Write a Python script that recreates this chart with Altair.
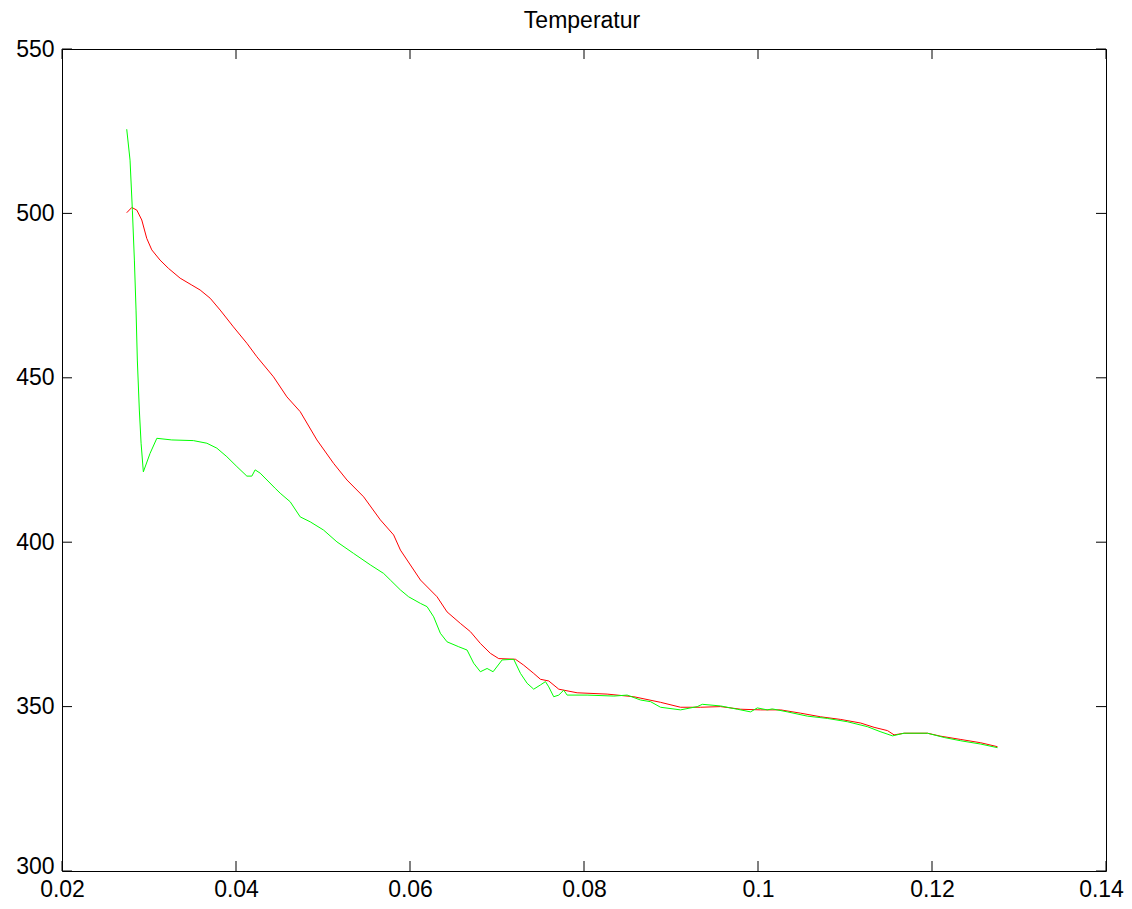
import altair as alt
import pandas as pd

# Green curve
green_x = [0.02744, 0.02782, 0.02809, 0.02832, 0.02851, 0.02866, 0.02889, 0.02909, 0.02935,
           0.03012, 0.03090, 0.03262, 0.0351, 0.03665, 0.0378, 0.03895, 0.0401, 0.04125,
           0.04182, 0.0422, 0.04278, 0.0445, 0.04508, 0.04623, 0.04738, 0.04853, 0.05006,
           0.0516, 0.05351, 0.05544, 0.05697, 0.05774, 0.05889, 0.05984, 0.06119, 0.06196,
           0.06272, 0.06349, 0.06426, 0.0656, 0.06656, 0.06732, 0.06809, 0.06886, 0.06955,
           0.07059, 0.07192, 0.0727, 0.07346, 0.07422, 0.075, 0.07557, 0.07595, 0.07652,
           0.0771, 0.07767, 0.07806, 0.08036, 0.08343, 0.08496, 0.0865, 0.08765, 0.0888,
           0.0911, 0.09302, 0.0936, 0.0957, 0.09762, 0.09915, 0.09992, 0.10107, 0.10164,
           0.10337, 0.10567, 0.10797, 0.11027, 0.11257, 0.11403, 0.11546, 0.11679, 0.11948,
           0.1214, 0.12331, 0.12561, 0.12753]
green_y = [525.6, 516.2, 501.0, 485.8, 470.6, 455.4, 440.2, 430.1, 421.4,
           427.0, 431.6, 431.1, 430.9, 430.1, 428.6, 426.0, 423.0, 420.1,
           420.1, 422.0, 421.0, 416.4, 414.9, 412.3, 407.7, 406.2, 403.7,
           400.1, 396.6, 393.1, 390.5, 388.5, 385.5, 383.4, 381.4, 380.4,
           377.3, 372.3, 369.7, 368.2, 367.2, 363.2, 360.6, 361.6, 360.6,
           364.2, 364.4, 360.1, 357.1, 355.3, 356.6, 357.6, 356.0, 353.0,
           353.5, 355.0, 353.5, 353.5, 353.2, 353.5, 352.0, 351.5, 349.8,
           349.0, 350.0, 350.7, 350.2, 349.2, 348.4, 349.6, 349.0, 349.3,
           348.4, 347.1, 346.4, 345.4, 343.9, 342.4, 341.1, 341.9, 341.9,
           340.6, 339.6, 338.6, 337.5]

# Red curve
red_x = [0.02744, 0.02802, 0.0286, 0.02917, 0.02974, 0.03032, 0.03127, 0.03223, 0.03358,
         0.03492, 0.03588, 0.03703, 0.03818, 0.0397, 0.04125, 0.0424, 0.04431, 0.04585,
         0.04738, 0.0493, 0.05121, 0.05276, 0.05467, 0.05659, 0.05812, 0.0589, 0.05966,
         0.0612, 0.06311, 0.06426, 0.06579, 0.06694, 0.06809, 0.06924, 0.0702, 0.07212,
         0.07307, 0.07422, 0.075, 0.07595, 0.0771, 0.07921, 0.08266, 0.08573, 0.0888,
         0.0911, 0.0934, 0.0957, 0.098, 0.1003, 0.1026, 0.1049, 0.1072, 0.1095, 0.1118,
         0.11334, 0.11488, 0.11564, 0.11679, 0.11948, 0.12101, 0.12331, 0.12561, 0.12753]
red_y = [500.2, 501.8, 501.0, 498.0, 492.4, 488.9, 485.8, 483.3, 480.3,
         478.2, 476.7, 474.2, 470.6, 465.5, 460.5, 456.4, 450.3, 444.2,
         439.7, 431.1, 424.0, 418.9, 413.8, 406.8, 402.2, 397.6, 394.6,
         388.5, 383.4, 378.8, 375.3, 372.8, 369.2, 366.2, 364.6, 364.4,
         362.6, 360.1, 358.3, 357.8, 355.3, 354.2, 353.8, 353.0, 351.3,
         349.8, 349.8, 350.0, 349.2, 349.0, 349.0, 348.0, 346.9, 346.1, 345.0,
         343.7, 342.7, 341.4, 341.9, 341.9, 341.0, 340.0, 339.0, 337.8]

x_ticks = [0.02, 0.04, 0.06, 0.08, 0.10, 0.12, 0.14]
y_ticks = [300, 350, 400, 450, 500, 550]
title_text = "Temperatur"

W, H = 1044, 822
FONT = "Liberation Sans"
FS = 23
TICK = 10

df = pd.concat([
    pd.DataFrame({"x": red_x, "y": red_y, "s": "red", "o": range(len(red_x))}),
    pd.DataFrame({"x": green_x, "y": green_y, "s": "green", "o": range(len(green_x))}),
])

xs = alt.Scale(domain=[0.02, 0.14], nice=False, zero=False)
ys = alt.Scale(domain=[300, 550], nice=False, zero=False)

lines = alt.Chart(df).mark_line(strokeWidth=1, interpolate="linear").encode(
    x=alt.X("x:Q", scale=xs, axis=alt.Axis(values=x_ticks, format="~g", ticks=False,
                                            domain=False, grid=False, labelFontSize=FS,
                                            labelFont=FONT, labelColor="#000",
                                            labelPadding=7, title=None,
                                            labelOffset={"condition": {"test": "datum.value >= 0.139", "value": -5}, "value": 0},
                                            labelFlush=False, labelOverlap=False)),
    y=alt.Y("y:Q", scale=ys, axis=alt.Axis(values=y_ticks, ticks=False, domain=False,
                                            grid=False, labelFontSize=FS, labelFont=FONT,
                                            labelColor="#000", labelPadding=8, title=None,
                                            labelOffset={"condition": {"test": "datum.value <= 301", "value": -5}, "value": 0},
                                            labelFlush=False, labelOverlap=False)),
    color=alt.Color("s:N", scale=alt.Scale(domain=["red", "green"],
                                           range=["#ff0000", "#00ff00"]), legend=None),
    order="o:Q",
    detail="s:N",
)

xt = pd.DataFrame({"t": x_ticks})
yt = pd.DataFrame({"t": y_ticks})

xb = alt.Chart(xt).mark_rule(color="#000", strokeWidth=1).encode(
    x=alt.X("t:Q", scale=xs), y=alt.value(H), y2=alt.value(H - TICK))
xtop = alt.Chart(xt).mark_rule(color="#000", strokeWidth=1).encode(
    x=alt.X("t:Q", scale=xs), y=alt.value(0), y2=alt.value(TICK))
yl = alt.Chart(yt).mark_rule(color="#000", strokeWidth=1).encode(
    y=alt.Y("t:Q", scale=ys), x=alt.value(0), x2=alt.value(TICK))
yr = alt.Chart(yt).mark_rule(color="#000", strokeWidth=1).encode(
    y=alt.Y("t:Q", scale=ys), x=alt.value(W - TICK), x2=alt.value(W))

title = alt.Chart(pd.DataFrame({"t": [title_text]})).mark_text(
    font=FONT, fontSize=FS, color="#000", align="center", baseline="alphabetic"
).encode(text="t:N", x=alt.value(W / 2 - 2), y=alt.value(-21))

chart = alt.layer(xb, xtop, yl, yr, lines, title).properties(
    width=W, height=H,
    autosize=alt.AutoSizeParams(type="none"),
    padding={"left": 54, "top": 41, "right": 18, "bottom": 30},
).configure(background="white").configure_view(stroke="#000", strokeWidth=1)

chart.save("out.html", embed_options={"renderer": "svg", "actions": False})
